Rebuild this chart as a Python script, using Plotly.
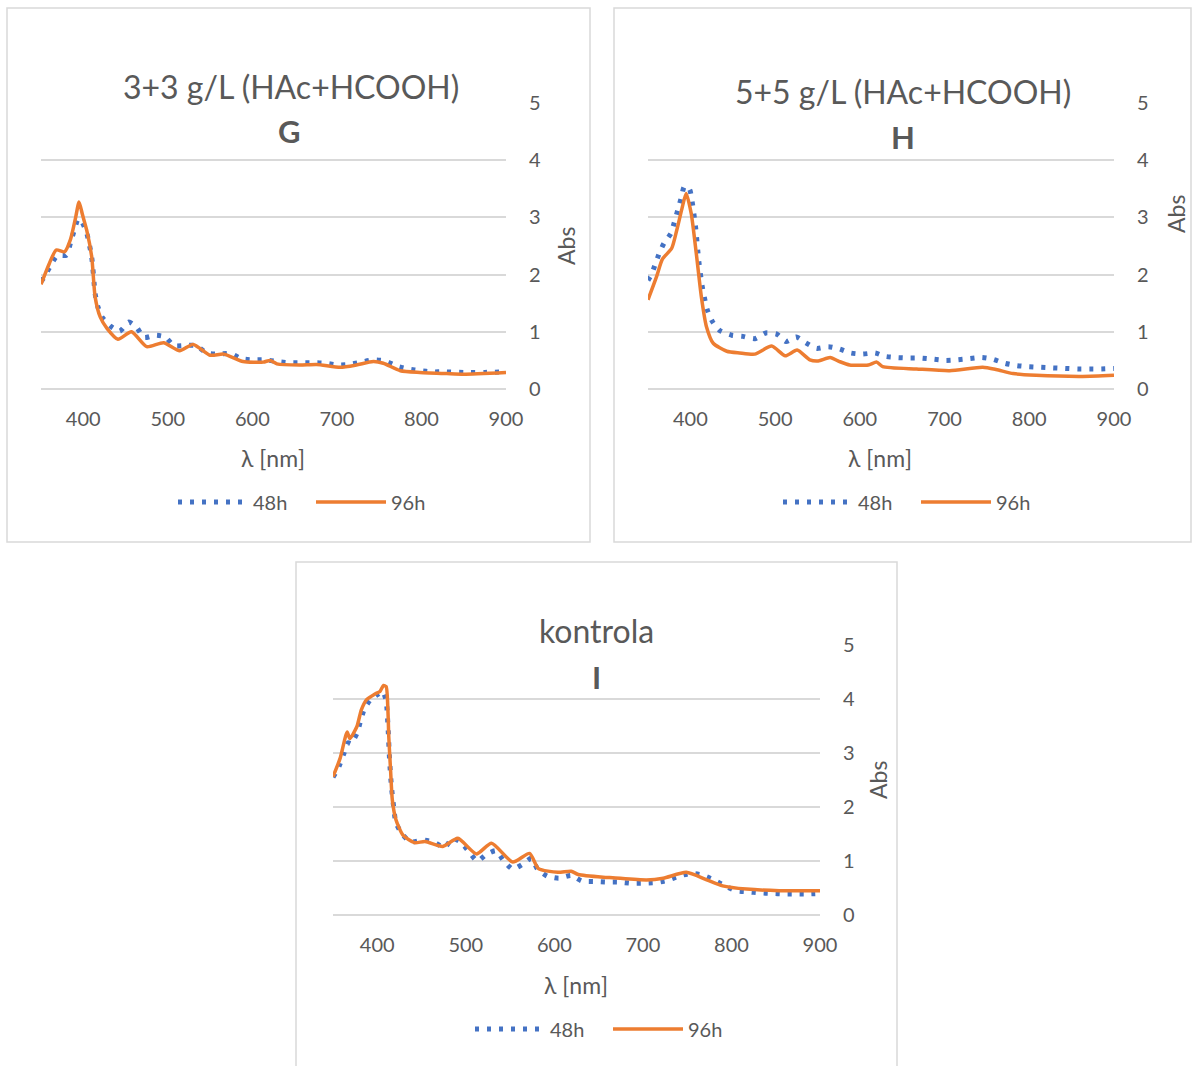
import plotly.graph_objects as go

W, H = 1192, 1066
FONT = "Lato"
GRAY = "#595959"
GRID = "#d9d9d9"
BLUE = "#4472C4"
ORANGE = "#ED7D31"

# ---------------- data ----------------
titles = ["3+3 g/L (HAc+HCOOH)", "5+5 g/L (HAc+HCOOH)", "kontrola"]
letters = ["G", "H", "I"]
series_names = ["48h", "96h"]
x_ticks = [400, 500, 600, 700, 800, 900]
y_ticks = [0, 1, 2, 3, 4, 5]

g_48_wl = [350, 354, 361, 369, 380, 385, 389, 394, 398, 404, 410, 414, 417, 422, 432, 443, 454, 463, 472, 485,
           497, 507, 520, 533, 546, 560, 574, 587, 601, 615, 629, 644, 658, 672, 687, 701, 715, 729, 743, 757,
           771, 785, 799, 812, 827, 850, 875, 900]
g_48_abs = [1.88, 1.96, 2.15, 2.33, 2.34, 2.56, 2.76, 2.97, 2.93, 2.73, 2.30, 1.67, 1.45, 1.26, 1.10, 1.01, 1.17,
            1.08, 0.90, 0.94, 0.91, 0.76, 0.76, 0.76, 0.63, 0.61, 0.62, 0.53, 0.51, 0.51, 0.48, 0.46, 0.46, 0.46,
            0.45, 0.42, 0.43, 0.47, 0.51, 0.49, 0.40, 0.35, 0.32, 0.30, 0.30, 0.29, 0.29, 0.30]
g_96_wl = [350, 360, 368, 378, 385, 391, 395, 399, 404, 410, 414, 420, 428, 441, 457, 475, 495, 514, 530, 550,
           566, 589, 613, 621, 629, 656, 676, 704, 723, 743, 755, 775, 798, 830, 850, 900]
g_96_abs = [1.83, 2.20, 2.43, 2.40, 2.62, 3.00, 3.27, 3.05, 2.78, 2.31, 1.61, 1.26, 1.06, 0.87, 1.00, 0.74, 0.81,
            0.67, 0.78, 0.59, 0.61, 0.48, 0.47, 0.50, 0.44, 0.42, 0.43, 0.38, 0.42, 0.48, 0.45, 0.32, 0.29, 0.27,
            0.26, 0.29]

h_48_wl = [350, 354, 359, 364, 369, 377, 381, 385, 389, 393, 399, 402, 406, 410, 414, 420, 426, 435, 449, 462,
           476, 489, 502, 513, 525, 536, 549, 563, 576, 589, 603, 618, 630, 644, 659, 672, 687, 701, 715, 729,
           744, 757, 771, 785, 799, 813, 827, 842, 857, 871, 885, 900]
h_48_abs = [1.90, 2.00, 2.20, 2.40, 2.55, 2.72, 2.91, 3.12, 3.33, 3.54, 3.49, 3.28, 2.85, 2.23, 1.79, 1.38, 1.18,
            1.02, 0.94, 0.92, 0.88, 0.98, 0.96, 0.83, 0.91, 0.81, 0.71, 0.74, 0.70, 0.63, 0.61, 0.63, 0.57, 0.55,
            0.54, 0.54, 0.52, 0.50, 0.51, 0.53, 0.55, 0.52, 0.45, 0.41, 0.39, 0.38, 0.37, 0.36, 0.35, 0.35, 0.35,
            0.36]
h_96_wl = [350, 360, 367, 378, 384, 390, 395, 401, 407, 413, 419, 427, 443, 458, 476, 496, 512, 526, 541, 551,
           565, 576, 588, 610, 620, 627, 667, 706, 745, 761, 781, 808, 863, 900]
h_96_abs = [1.56, 1.96, 2.27, 2.46, 2.78, 3.15, 3.42, 3.07, 2.37, 1.61, 1.09, 0.80, 0.66, 0.63, 0.61, 0.75, 0.58,
            0.68, 0.51, 0.49, 0.55, 0.48, 0.42, 0.42, 0.47, 0.39, 0.35, 0.32, 0.38, 0.34, 0.27, 0.24, 0.22, 0.24]

i_48_wl = [350, 357, 362, 367, 370, 377, 381, 385, 392, 401, 406, 410, 412, 414, 416, 419, 421, 428, 438, 451,
           464, 476, 485, 495, 504, 513, 523, 534, 543, 553, 564, 574, 581, 592, 605, 619, 631, 645, 658, 672,
           686, 700, 714, 727, 741, 754, 767, 780, 793, 805, 818, 832, 845, 859, 873, 887, 900]
i_48_abs = [2.55, 2.76, 2.98, 3.19, 3.17, 3.36, 3.59, 3.80, 3.98, 4.09, 4.14, 3.97, 3.52, 2.84, 2.38, 1.93, 1.71,
            1.50, 1.35, 1.39, 1.35, 1.25, 1.42, 1.34, 1.16, 1.00, 1.12, 1.19, 1.00, 0.85, 0.94, 1.05, 0.85, 0.72,
            0.68, 0.73, 0.63, 0.62, 0.61, 0.61, 0.59, 0.59, 0.60, 0.64, 0.72, 0.77, 0.74, 0.65, 0.54, 0.45, 0.43,
            0.41, 0.40, 0.39, 0.39, 0.39, 0.40]
i_96_wl = [350, 358, 366, 369, 377, 382, 388, 397, 403, 407, 410, 412, 413, 415, 417, 421, 429, 442, 454, 474,
           491, 512, 529, 553, 572, 582, 604, 619, 627, 655, 666, 704, 723, 749, 772, 790, 817, 854, 900]
i_96_abs = [2.56, 2.90, 3.39, 3.27, 3.49, 3.80, 3.99, 4.09, 4.14, 4.25, 4.23, 3.80, 3.30, 2.69, 2.13, 1.77, 1.48,
            1.34, 1.36, 1.27, 1.42, 1.13, 1.33, 0.98, 1.14, 0.86, 0.79, 0.81, 0.75, 0.70, 0.69, 0.65, 0.68, 0.79,
            0.65, 0.54, 0.48, 0.45, 0.45]

panels_data = [
    (g_48_wl, g_48_abs, g_96_wl, g_96_abs),
    (h_48_wl, h_48_abs, h_96_wl, h_96_abs),
    (i_48_wl, i_48_abs, i_96_wl, i_96_abs),
]

# ---------------- layout geometry (pixels) ----------------
def px(x):
    return x / W

def py(y):
    return 1 - y / H

# plot areas: (left, right, top, bottom)
areas = [(41, 506, 103, 389), (648, 1114, 103, 389), (333, 820, 645, 915)]
borders = [(7, 590, 8, 542), (614, 1191, 8, 542), (296, 897, 562, 1085)]
title_pos = [(291, 86), (903, 92), (596, 630)]
letter_pos = [(289, 131), (903, 137), (596, 677)]
xtitle_pos = [(273, 458), (880, 458), (576, 985)]
ytitle_pos = [(566, 246), (1176, 214), (878, 780)]
legend_pos = [(311, 502), (916, 502), (608, 1029)]

fig = go.Figure()

for k, (wl48, a48, wl96, a96) in enumerate(panels_data):
    suffix = "" if k == 0 else str(k + 1)
    xa = "x" + suffix
    ya = "y" + suffix
    lg = "legend" + suffix
    fig.add_trace(go.Scatter(
        x=wl48, y=a48, mode="lines", name=series_names[0],
        line=dict(color=BLUE, width=5, dash="4px,8px", shape="spline", smoothing=0.6),
        xaxis=xa, yaxis=ya, legend=lg))
    fig.add_trace(go.Scatter(
        x=wl96, y=a96, mode="lines", name=series_names[1],
        line=dict(color=ORANGE, width=3.5, shape="spline", smoothing=0.6),
        xaxis=xa, yaxis=ya, legend=lg))

layout = dict(
    template="none",
    width=W, height=H, autosize=False,
    margin=dict(l=0, r=0, t=0, b=0, pad=0),
    paper_bgcolor="white", plot_bgcolor="white",
    font=dict(family=FONT, color=GRAY, size=20),
    shapes=[], annotations=[],
)

for k in range(3):
    suffix = "" if k == 0 else str(k + 1)
    l, r, t, b = areas[k]
    layout["xaxis" + suffix] = dict(
        domain=[px(l), px(r)], range=[350, 900], tickvals=x_ticks,
        showgrid=False, zeroline=False, showline=False, ticks="", automargin=False,
        anchor="y" + suffix, ticklabelstandoff=16,
        tickfont=dict(family=FONT, size=20, color=GRAY),
    )
    layout["yaxis" + suffix] = dict(
        domain=[py(b), py(t)], range=[0, 5], tickvals=y_ticks, side="right",
        showgrid=True, gridcolor=GRID, gridwidth=1.5,
        zeroline=True, zerolinecolor=GRID, zerolinewidth=1.5,
        showline=False, ticks="", anchor="x" + suffix, ticklabelstandoff=22, automargin=False,
        tickfont=dict(family=FONT, size=20, color=GRAY),
    )
    bl, br, bt, bb = borders[k]
    layout["shapes"].append(dict(
        type="rect", xref="paper", yref="paper",
        x0=px(bl), x1=px(br), y0=py(bb), y1=py(bt),
        line=dict(color=GRID, width=1.5), fillcolor="rgba(0,0,0,0)", layer="below"))
    tx, ty = title_pos[k]
    layout["annotations"].append(dict(
        text=titles[k], x=px(tx), y=py(ty), xref="paper", yref="paper",
        xanchor="center", yanchor="middle", showarrow=False,
        font=dict(family=FONT, size=32, color=GRAY)))
    lx, ly = letter_pos[k]
    layout["annotations"].append(dict(
        text="<b>" + letters[k] + "</b>", x=px(lx), y=py(ly), xref="paper", yref="paper",
        xanchor="center", yanchor="middle", showarrow=False,
        font=dict(family=FONT, size=31, color=GRAY)))
    xx, xy = xtitle_pos[k]
    layout["annotations"].append(dict(
        text="λ [nm]", x=px(xx), y=py(xy), xref="paper", yref="paper",
        xanchor="center", yanchor="middle", showarrow=False,
        font=dict(family=FONT, size=23, color=GRAY)))
    yx, yy = ytitle_pos[k]
    layout["annotations"].append(dict(
        text="Abs", x=px(yx), y=py(yy), xref="paper", yref="paper",
        xanchor="center", yanchor="middle", showarrow=False, textangle=-90,
        font=dict(family=FONT, size=23, color=GRAY)))
    gx, gy = legend_pos[k]
    layout["legend" + suffix] = dict(
        x=px(gx), y=py(gy), xref="paper", yref="paper",
        xanchor="center", yanchor="middle", orientation="h",
        itemwidth=70, entrywidth=53, entrywidthmode="pixels",
        bgcolor="rgba(0,0,0,0)", borderwidth=0,
        font=dict(family=FONT, size=20, color=GRAY),
    )

fig.update_layout(**layout)

# pin the figure to the top-left corner of the page so it fills the 1192x1066 window exactly
pin_js = (
    "document.documentElement.style.margin='0';"
    "document.body.style.margin='0';document.body.style.overflow='hidden';"
    "var d=document.getElementById('{plot_id}');"
    "d.style.position='absolute';d.style.left='0px';d.style.top='0px';"
)
fig.write_html("out.html", post_script=pin_js, config=dict(displayModeBar=False))
